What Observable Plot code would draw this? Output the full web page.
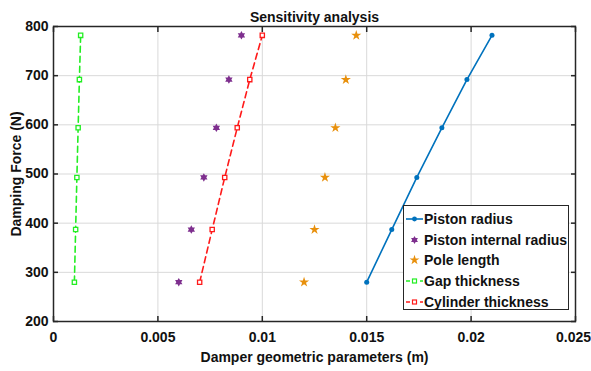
<!DOCTYPE html>
<html>
<head>
<meta charset="utf-8">
<script src="https://cdn.jsdelivr.net/npm/d3@7"></script>
<script src="https://cdn.jsdelivr.net/npm/@observablehq/plot@0.6"></script>
<style>
  html, body { margin: 0; padding: 0; background: #fff; }
  #wrap { position: relative; width: 591px; height: 371px; font-family: "Liberation Sans", Arial, sans-serif; }
  #legend { position: absolute; left: 403px; top: 205px; width: 166px; height: 105px; border: 1px solid #262626; background: #fff; box-sizing: border-box; }
  .row { position: absolute; left: 0; height: 20px; display: flex; align-items: center; font-weight: bold; font-size: 14px; color: #111; white-space: nowrap; }
  .row svg { width: 20px; height: 20px; margin-right: 0px; }
</style>
</head>
<body>
<div id="wrap"></div>
<script>
const chartTitle = "Sensitivity analysis";
const xLabel = "Damper geometric parameters (m)";
const yLabel = "Damping Force (N)";
const force = [280, 387, 493, 594, 692, 782];
const pistonRadius = [0.015, 0.0162, 0.0174, 0.0186, 0.0198, 0.021];
const pistonInternalRadius = [0.006, 0.0066, 0.0072, 0.0078, 0.0084, 0.009];
const poleLength = [0.012, 0.0125, 0.013, 0.0135, 0.014, 0.0145];
const gapThickness = [0.001, 0.00106, 0.00112, 0.00118, 0.00124, 0.0013];
const cylinderThickness = [0.007, 0.0076, 0.0082, 0.0088, 0.0094, 0.010];
const seriesNames = ["Piston radius", "Piston internal radius", "Pole length", "Gap thickness", "Cylinder thickness"];
const seriesColors = ["#0072BD", "#7E2F8E", "#E8900C", "#22EE22", "#FF1A1A"];
const xTicks = [0, 0.005, 0.01, 0.015, 0.02, 0.025];
const xTickLabels = ["0", "0.005", "0.01", "0.015", "0.02", "0.025"];
const yTicks = [200, 300, 400, 500, 600, 700, 800];

const rows = (xs) => xs.map((x, i) => ({x, y: force[i]}));
const hexagram = {
  draw(ctx, size) {
    const R = Math.sqrt(size) * 0.75, r = R * 0.577;
    for (let k = 0; k < 12; k++) {
      const a = -Math.PI / 2 + k * Math.PI / 6;
      const rr = k % 2 ? r : R;
      const px = rr * Math.cos(a), py = rr * Math.sin(a);
      if (k === 0) ctx.moveTo(px, py); else ctx.lineTo(px, py);
    }
    ctx.closePath();
  }
};
const fmt = (d) => xTickLabels[xTicks.indexOf(d)];
const font = {fontSize: 14, fontWeight: "bold"};
const lastTick = xTicks.slice(-1);
const innerTicks = xTicks.slice(0, -1);

const chart = Plot.plot({
  width: 591, height: 371,
  marginTop: 26, marginLeft: 53, marginRight: 16, marginBottom: 50,
  style: {fontFamily: "'Liberation Sans', Arial, sans-serif", color: "#111", background: "#fff"},
  x: {domain: [0, 0.025]},
  y: {domain: [200, 800]},
  marks: [
    Plot.gridX(xTicks, {stroke: "#d9d9d9", strokeOpacity: 1}),
    Plot.gridY(yTicks, {stroke: "#d9d9d9", strokeOpacity: 1}),
    Plot.axisX(innerTicks, {tickSize: 0, tickPadding: 11, tickFormat: fmt, label: xLabel, labelAnchor: "center", labelArrow: "none", labelOffset: 40, ...font}),
    Plot.axisX(lastTick, {tickSize: 0, tickPadding: 11, tickFormat: fmt, label: null, dx: -2, ...font}),
    Plot.axisY(yTicks, {tickSize: 0, tickPadding: 5, label: yLabel, labelAnchor: "center", labelArrow: "none", labelOffset: 42, ...font}),
    Plot.axisX(xTicks, {tickSize: -5, tickFormat: () => "", label: null, stroke: "#262626", strokeWidth: 1.5}),
    Plot.axisX(xTicks, {anchor: "top", tickSize: -5, tickFormat: () => "", label: null, stroke: "#262626", strokeWidth: 1.5}),
    Plot.axisY(yTicks, {tickSize: -5, tickFormat: () => "", label: null, stroke: "#262626", strokeWidth: 1.5}),
    Plot.axisY(yTicks, {anchor: "right", tickSize: -5, tickFormat: () => "", label: null, stroke: "#262626", strokeWidth: 1.5}),
    Plot.frame({stroke: "#262626", strokeWidth: 1.5}),
    Plot.line(rows(pistonRadius), {x: "x", y: "y", stroke: seriesColors[0], strokeWidth: 1.6}),
    Plot.dot(rows(pistonRadius), {x: "x", y: "y", fill: seriesColors[0], r: 2.5}),
    Plot.dot(rows(pistonInternalRadius), {x: "x", y: "y", fill: seriesColors[1], symbol: hexagram, r: 3.2}),
    Plot.dot(rows(poleLength), {x: "x", y: "y", fill: seriesColors[2], symbol: "star", r: 3.2}),
    Plot.line(rows(gapThickness), {x: "x", y: "y", stroke: seriesColors[3], strokeWidth: 1.6, strokeDasharray: "6,4"}),
    Plot.dot(rows(gapThickness), {x: "x", y: "y", stroke: seriesColors[3], fill: "white", symbol: "square", r: 2.4, strokeWidth: 1.3}),
    Plot.line(rows(cylinderThickness), {x: "x", y: "y", stroke: seriesColors[4], strokeWidth: 1.6, strokeDasharray: "6,4"}),
    Plot.dot(rows(cylinderThickness), {x: "x", y: "y", stroke: seriesColors[4], fill: "white", symbol: "square", r: 2.4, strokeWidth: 1.3}),
    Plot.text([chartTitle], {frameAnchor: "top", dy: -14, text: d => d, fontSize: 14, fontWeight: "bold", fill: "#111"})
  ]
});
const wrap = document.getElementById("wrap");
wrap.appendChild(chart);

// Legend
const legend = document.createElement("div");
legend.id = "legend";
const hexPath = d3.symbol(hexagram, 28)();
const starPath = d3.symbol(d3.symbolStar, 30)();
const sample = [
  `<line x1="2" x2="19" y1="10" y2="10" stroke="${seriesColors[0]}" stroke-width="1.6"/><circle cx="10.5" cy="10" r="2.4" fill="${seriesColors[0]}"/>`,
  `<path transform="translate(10.5,10)" d="${hexPath}" fill="${seriesColors[1]}"/>`,
  `<path transform="translate(10.5,10)" d="${starPath}" fill="${seriesColors[2]}"/>`,
  `<line x1="2" x2="19" y1="10" y2="10" stroke="${seriesColors[3]}" stroke-width="1.6" stroke-dasharray="4,3"/><rect x="8.5" y="8" width="4" height="4" fill="white" stroke="${seriesColors[3]}" stroke-width="1.2"/>`,
  `<line x1="2" x2="19" y1="10" y2="10" stroke="${seriesColors[4]}" stroke-width="1.6" stroke-dasharray="4,3"/><rect x="8.5" y="8" width="4" height="4" fill="white" stroke="${seriesColors[4]}" stroke-width="1.2"/>`
];
seriesNames.forEach((name, i) => {
  const row = document.createElement("div");
  row.className = "row";
  row.style.top = (3 + i * 20.7) + "px";
  row.innerHTML = `<svg viewBox="0 0 20 20">${sample[i]}</svg><span>${name}</span>`;
  legend.appendChild(row);
});
wrap.appendChild(legend);
</script>
</body>
</html>
